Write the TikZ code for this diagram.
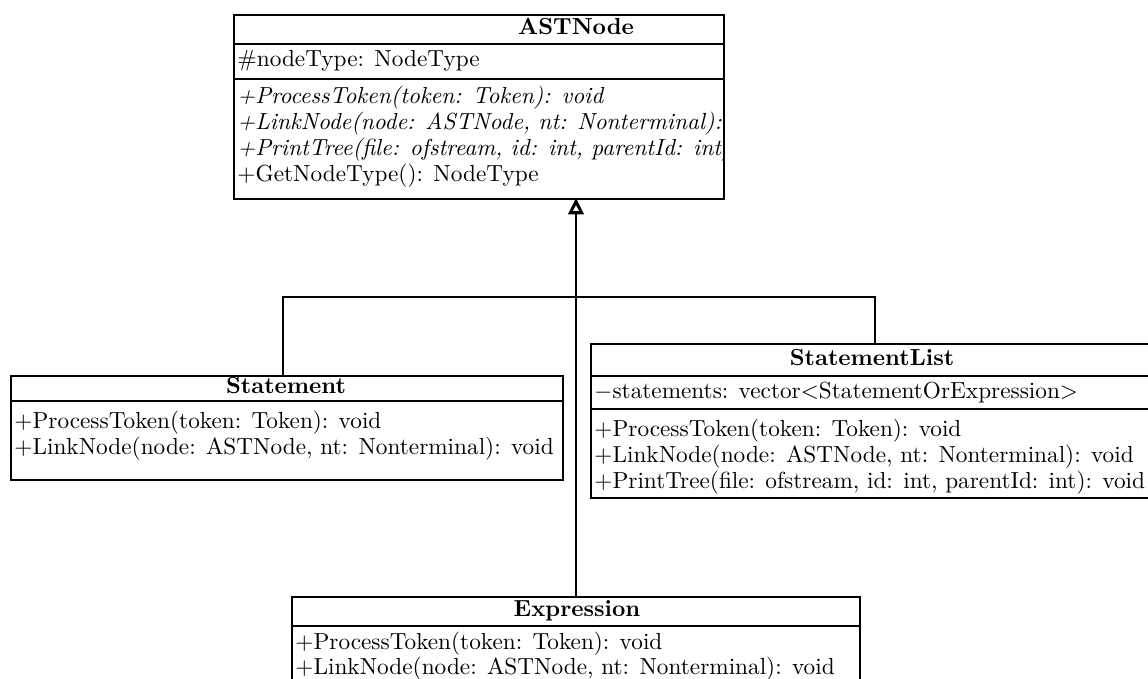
\documentclass[tikz,border=0pt]{standalone}
\usetikzlibrary{arrows.meta}
\begin{document}
\begin{tikzpicture}[x=0.43pt,y=-0.43pt,
  font=\fontsize{10}{10}\selectfont,
  classbox/.style={draw, line width=0.65pt, inner sep=0pt, anchor=north west},
  member/.style={anchor=mid west, inner sep=0pt},
  title/.style={anchor=mid, inner sep=0pt, font=\fontsize{10}{10}\selectfont\bfseries},
  rule/.style={line width=0.65pt},
  edge/.style={line width=0.65pt},
  inherit/.style={line width=0.65pt, -{Triangle[open, length=7pt, width=6.6pt, line width=1.3pt]}}]
\useasboundingbox (0,0) rectangle (1148,679);
\clip (0,0) rectangle (1148,679);

% ---- ASTNode ----
\node[classbox, minimum width=490*0.43pt, minimum height=184*0.43pt] (astnode) at (233,14) {};
\draw[rule] (233,44) -- (723,44);
\draw[rule] (233,79) -- (723,79);
\node[title] (astnode-name) at (576,29) {ASTNode};
\begin{scope}
  \clip (astnode.north west) rectangle (astnode.south east);
  \node[member] (astnode-a1) at (237,61) {\#nodeType: NodeType};
  \node[member] (astnode-m1) at (237,98) {\itshape +ProcessToken(token: Token): void};
  \node[member] (astnode-m2) at (237,124) {\itshape +LinkNode(node: ASTNode, nt: Nonterminal): void};
  \node[member] (astnode-m3) at (237,150) {\itshape +PrintTree(file: ofstream, id: int, parentId: int): void};
  \node[member] (astnode-m4) at (237,176) {+GetNodeType(): NodeType};
\end{scope}

% ---- Statement ----
\node[classbox, minimum width=552*0.43pt, minimum height=104*0.43pt] (statement) at (10,375) {};
\draw[rule] (10,401) -- (562,401);
\node[title] (statement-name) at (286,388) {Statement};
\node[member] (statement-m1) at (14,423) {+ProcessToken(token: Token): void};
\node[member] (statement-m2) at (14,449) {+LinkNode(node: ASTNode, nt: Nonterminal): void};

% ---- StatementList ----
\node[classbox, minimum width=570*0.43pt, minimum height=154*0.43pt] (statementlist) at (590,343) {};
\draw[rule] (590,376) -- (1160,376);
\draw[rule] (590,409) -- (1160,409);
\node[title] (statementlist-name) at (872,360) {StatementList};
\node[member] (statementlist-a1) at (594,393) {$-$statements: vector$<$StatementOrExpression$>$};
\node[member] (statementlist-m1) at (594,431) {+ProcessToken(token: Token): void};
\node[member] (statementlist-m2) at (594,457) {+LinkNode(node: ASTNode, nt: Nonterminal): void};
\node[member] (statementlist-m3) at (594,483) {+PrintTree(file: ofstream, id: int, parentId: int): void};

% ---- Expression ----
\node[classbox, minimum width=568*0.43pt, minimum height=110*0.43pt] (expression) at (291,596) {};
\draw[rule] (291,626) -- (859,626);
\node[title] (expression-name) at (577,611) {Expression};
\node[member] (expression-m1) at (295,644) {+ProcessToken(token: Token): void};
\node[member] (expression-m2) at (295,669) {+LinkNode(node: ASTNode, nt: Nonterminal): void};

% ---- generalisation ----
\coordinate (stmt-port) at (283,375);
\coordinate (list-port) at (875,343);
\coordinate (bus) at (576,297);
\coordinate (expr-port) at (576,596);
\coordinate (ast-port) at (576,198);
\draw[edge] (stmt-port) |- (bus) -| (list-port);
\draw[inherit] (expr-port) -- (ast-port);
\end{tikzpicture}
\end{document}
